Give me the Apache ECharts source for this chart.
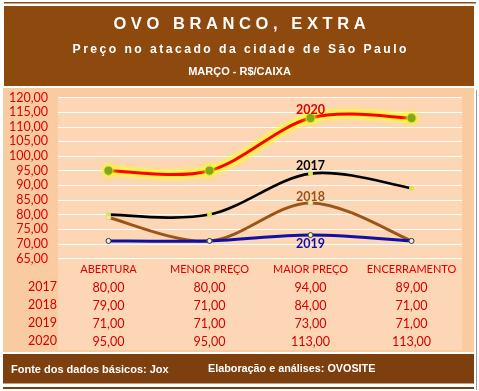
<!DOCTYPE html>
<html><head><meta charset="utf-8">
<script src="https://cdn.jsdelivr.net/npm/echarts@6/dist/echarts.min.js"></script>
<style>html,body{margin:0;padding:0;background:#fff}#c{width:479px;height:391px}</style>
</head><body><div id="c"></div>
<script>
const categories = ['ABERTURA', 'MENOR PREÇO', 'MAIOR PREÇO', 'ENCERRAMENTO'];
const years = ['2017', '2018', '2019', '2020'];
const v2017 = [80, 80, 94, 89];
const v2018 = [79, 71, 84, 71];
const v2019 = [71, 71, 73, 71];
const v2020 = [95, 95, 113, 113];
const yMin = 65, yMax = 120, yStep = 5;
const titleText = 'OVO BRANCO, EXTRA';
const subText = 'Preço no atacado da cidade de São Paulo';
const unitText = 'MARÇO - R$/CAIXA';
const footLeft = 'Fonte dos dados básicos: Jox';
const footRight = 'Elaboração e análises: OVOSITE';

const seriesVals = [v2017, v2018, v2019, v2020];
const fmt = v => v.toFixed(2).replace('.', ',');
const spaced = (s, sep) => s.split('').join(sep);
const FONT = 'Lato, "Open Sans", sans-serif';
const ARIAL = 'Arial, "Liberation Sans", sans-serif';

// Excel-style smoothed line drawn through the chart's own coordinate system
function curve(vals, z, style) {
  const n = vals.length;
  return {
    type: 'custom', silent: true, z: z,
    data: vals.map((v, i) => [i, v]),
    renderItem: (params, api) => {
      const i = params.dataIndex;
      if (i >= n - 1) return {type: 'group', children: []};
      const P = k => { const c = Math.max(0, Math.min(n - 1, k)); return api.coord([c, vals[c]]); };
      const p0 = P(i - 1), p1 = P(i), p2 = P(i + 1), p3 = P(i + 2);
      return {
        type: 'bezierCurve',
        shape: {
          x1: p1[0], y1: p1[1], x2: p2[0], y2: p2[1],
          cpx1: p1[0] + (p2[0] - p0[0]) / 6, cpy1: p1[1] + (p2[1] - p0[1]) / 6,
          cpx2: p2[0] - (p3[0] - p1[0]) / 6, cpy2: p2[1] - (p3[1] - p1[1]) / 6
        },
        style: Object.assign({fill: null, lineCap: 'round'}, style)
      };
    }
  };
}

const chart = echarts.init(document.getElementById('c'));
const labelAt = (pos, color, dist) => ({
  show: true, position: pos, color: color, fontFamily: FONT, fontSize: 12.5, fontWeight: 'bold',
  distance: dist,
  formatter: p => p.dataIndex === 2 ? p.seriesName : ''
});
const pts = (name, vals, z, size, itemStyle, label) => ({
  name: name, type: 'line', data: vals, z: z,
  lineStyle: {width: 0, opacity: 0},
  symbol: 'circle', symbolSize: size, itemStyle: itemStyle, label: label
});
chart.setOption({
  animation: false,
  backgroundColor: '#ffffff',
  title: [
    {text: spaced(titleText, ' '), left: 'center', top: 11,
     textStyle: {color: '#fff', fontSize: 16.5, fontWeight: 'bold', fontFamily: ARIAL}},
    {text: spaced(subText, '\u2009'), left: 'center', top: 39,
     textStyle: {color: '#fff', fontSize: 12.2, fontWeight: 'bold', fontFamily: ARIAL}},
    {text: unitText, left: 'center', top: 61,
     textStyle: {color: '#fff', fontSize: 11, fontWeight: 'bold', fontFamily: ARIAL}}
  ],
  graphic: [
    {type: 'rect', z: -10, shape: {x: 4, y: 2, width: 472, height: 1.5}, style: {fill: '#8E4A10'}},
    {type: 'rect', z: -10, shape: {x: 4, y: 6, width: 470, height: 80}, style: {fill: '#8E4A0E'}},
    {type: 'rect', z: -10, shape: {x: 3, y: 88, width: 471, height: 264}, style: {fill: '#F9CBA1'}},
    {type: 'rect', z: -9, shape: {x: 58, y: 97, width: 404, height: 253}, style: {fill: '#FCD6B5'}},
    {type: 'rect', z: -10, shape: {x: 3, y: 354, width: 471, height: 29.5}, style: {fill: '#7E3F0E'}},
    {type: 'rect', z: -10, shape: {x: 3, y: 387, width: 471, height: 2}, style: {fill: '#7E3F0E'}},
    {type: 'rect', z: -10, shape: {x: 476, y: 90, width: 1, height: 300}, style: {fill: '#9a9a9a'}},
    {type: 'text', left: 11, top: 364, style: {text: footLeft, fill: '#fff', fontSize: 11, fontWeight: 'bold', fontFamily: ARIAL}},
    {type: 'text', left: 208, top: 364, style: {text: footRight, fill: '#fff', fontSize: 10.8, fontWeight: 'bold', fontFamily: ARIAL}},
    {type: 'text', right: 479 - 57, top: 278, style: {text: years.join('\n'), fill: '#D40000',
      fontSize: 12.5, fontFamily: FONT, lineHeight: 18, align: 'right'}}
  ],
  grid: {left: 58, right: 17, top: 97.5, bottom: 132.5},
  xAxis: {
    type: 'category', data: categories, boundaryGap: true,
    axisLine: {show: false}, axisTick: {show: false},
    axisLabel: {
      margin: 2, interval: 0, verticalAlign: 'top',
      formatter: (val, idx) => ['{h|' + val + '}'].concat(seriesVals.map(s => '{v|' + fmt(s[idx]) + '}')).join('\n'),
      rich: {
        h: {color: '#E00000', fontFamily: FONT, fontSize: 11, lineHeight: 18},
        v: {color: '#D40000', fontFamily: FONT, fontSize: 12.5, lineHeight: 18}
      }
    }
  },
  yAxis: {
    type: 'value', min: yMin, max: yMax, interval: yStep,
    axisLine: {show: false}, axisTick: {show: false},
    splitLine: {show: true, lineStyle: {color: '#ffffff', width: 1}},
    axisLabel: {formatter: v => fmt(v), color: '#E00000', fontFamily: FONT, fontSize: 12.5, margin: 10}
  },
  series: [
    curve(v2018, 2, {stroke: '#9A5517', lineWidth: 3}),
    curve(v2019, 2, {stroke: '#1010A8', lineWidth: 3}),
    curve(v2017, 3, {stroke: '#000000', lineWidth: 2.6}),
    curve(v2020, 3, {stroke: '#FFF347', lineWidth: 8, shadowColor: '#FFFF30', shadowBlur: 5, opacity: 0.85}),
    curve(v2020, 4, {stroke: '#FF0000', lineWidth: 3}),
    pts(years[0], v2017, 6, 5, {color: '#D8E84A'}, labelAt('top', '#000000', -1)),
    pts(years[1], v2018, 6, 5, {color: '#F4EBA0', borderColor: '#C8C080', borderWidth: 0.5}, labelAt('top', '#9A5517', -3)),
    pts(years[2], v2019, 6, 5, {color: '#F0F0D0', borderColor: '#303050', borderWidth: 1}, labelAt('bottom', '#1010A8', -1)),
    pts(years[3], v2020, 7, 9, {color: '#6E9A1E', borderColor: '#C8E030', borderWidth: 1, shadowColor: '#FFFF00', shadowBlur: 6}, labelAt('top', '#E00000', -3))
  ]
});
</script></body></html>
